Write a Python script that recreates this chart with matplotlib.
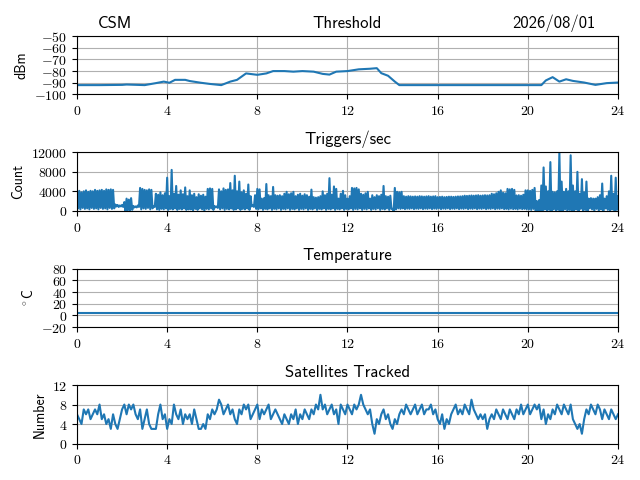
import numpy as np
import matplotlib
matplotlib.use('Agg')
from matplotlib import pyplot as plt
from matplotlib.ticker import FuncFormatter

plt.rcParams['font.family'] = ['cmss10', 'DejaVu Sans']
plt.rcParams['mathtext.fontset'] = 'cm'

# threshold (dBm), read at irregular hours
thr_t = [0, 1, 2, 2.2, 3, 3.5, 3.85, 4.1, 4.35, 4.8, 5, 5.5, 5.9, 6.4, 6.8, 7.1,
         7.5, 8, 8.4, 8.7, 9.2, 9.6, 10, 10.5, 10.9, 11.2, 11.5, 12, 12.5, 13,
         13.3, 13.5, 13.8, 14.1, 14.3, 16, 18, 20, 20.6, 20.8, 21.1, 21.4, 21.7,
         22, 22.5, 23, 23.5, 24]
thr_db = [-92, -92, -91.8, -91.5, -92, -90.3, -89, -90, -87.5, -87.5, -88.5, -90,
          -91, -92, -89, -87.5, -82, -83.2, -82, -80, -80, -80.5, -80, -80.5,
          -82.4, -83, -80.5, -80, -78.5, -78, -77.5, -81.8, -84, -89, -92, -92,
          -92, -92, -92, -88, -85.2, -89, -87, -88.4, -89.8, -91.8, -90.3, -89.8]

# triggers/sec, upper and lower swing every 0.1 h (one row per hour)
trig_hi = [
    3900, 4100, 3800, 4000, 4200, 3900, 4100, 4000, 4300, 4100,
    4200, 4300, 4100, 4400, 4300, 4400, 4300, 1300, 1200, 1100,
    1200, 1800, 2500, 2300, 2600, 1000, 900, 1100, 4700, 4500,
    4300, 4200, 4400, 4300, 1000, 3500, 3300, 3800, 3200, 3600,
    6800, 3000, 8400, 3500, 5100, 3300, 4200, 3400, 4800, 3000,
    4200, 3200, 3500, 2800, 3400, 3100, 3300, 2900, 4500, 4600,
    4500, 1000, 900, 4400, 4000, 4600, 4300, 4400, 5700, 4200,
    7200, 4000, 6000, 3800, 4200, 3500, 5400, 3000, 1200, 3200,
    4500, 4400, 2500, 2600, 5500, 3200, 3000, 4900, 3200, 3100,
    3200, 3000, 3500, 3900, 3400, 3600, 3900, 3000, 3300, 3500,
    3100, 3400, 3200, 2900, 4350, 2800, 2700, 2800, 3000, 4000,
    3200, 3500, 6700, 3300, 5000, 4500, 2500, 3500, 4100, 3200,
    2500, 3000, 4700, 4600, 4700, 4400, 3500, 3300, 3600, 3900,
    2500, 3200, 2800, 3200, 3000, 3300, 5100, 3000, 2900, 3100,
    400, 4700, 3900, 3800, 3900, 3000, 2900, 3000, 2950, 2900,
    2950, 2900, 3000, 2950, 2900, 2950, 3000, 2900, 2950, 3000,
    2800, 2850, 2900, 2800, 2850, 2900, 2900, 2850, 2900, 2950,
    2950, 3000, 3100, 3050, 3100, 3150, 3100, 3150, 3200, 3100,
    3150, 3200, 3150, 3200, 3500, 3400, 3600, 3900, 4200, 3700,
    3600, 4500, 4400, 4500, 4300, 3150, 3200, 3100, 3300, 4200,
    4200, 4100, 4300, 4700, 2000, 2200, 5200, 8900, 5000, 4000,
    10000, 3900, 3800, 4000, 12000, 6000, 3900, 4500, 4000, 11400,
    5200, 4000, 8000, 3500, 6500, 3800, 6000, 2500, 2600, 2500,
    2500, 2800, 3200, 5600, 2500, 3000, 4000, 7200, 3500, 6800,
    3000]
trig_lo = [
    500, 300, 600, 400, 500, 300, 600, 400, 500, 300,
    600, 400, 500, 300, 600, 400, 500, 900, 800, 900,
    800, 0, 100, 0, 200, 700, 700, 800, 300, 500,
    400, 600, 300, 500, 800, 300, 200, 400, 300, 500,
    200, 400, 300, 500, 200, 400, 300, 500, 200, 300,
    300, 100, 400, 200, 500, 300, 0, 400, 300, 500,
    200, 700, 600, 300, 500, 200, 400, 300, 500, 200,
    300, 500, 200, 400, 300, 500, 200, 900, 800, 400,
    300, 500, 200, 400, 300, 500, 200, 400, 300, 500,
    200, 400, 300, 500, 200, 400, 300, 500, 200, 400,
    300, 500, 200, 400, 300, 500, 200, 400, 300, 500,
    200, 400, 300, 500, 200, 400, 300, 500, 200, 400,
    300, 500, 200, 400, 300, 500, 200, 400, 300, 500,
    200, 400, 300, 500, 200, 400, 300, 500, 200, 400,
    0, 300, 500, 400, 500, 350, 450, 400, 500, 350,
    450, 400, 500, 350, 450, 400, 500, 350, 450, 400,
    500, 350, 450, 400, 500, 350, 450, 400, 500, 350,
    450, 400, 500, 350, 450, 400, 500, 350, 450, 400,
    500, 350, 450, 400, 500, 350, 450, 400, 500, 350,
    400, 300, 450, 350, 400, 300, 450, 350, 400, 300,
    300, 200, 400, 0, 0, 0, 0, 300, 0, 200,
    0, 300, 0, 200, 0, 0, 300, 0, 200, 0,
    0, 300, 0, 400, 0, 200, 0, 500, 300, 0,
    400, 0, 300, 0, 500, 200, 0, 300, 0, 200,
    300]

# temperature (deg C)
temp_t = [0, 24]
temp_c = [4.5, 4.5]

# satellites tracked every 0.1 h (one row per hour)
sats = [
    6, 5, 4, 7, 6, 7, 5, 6, 7, 6,
    8, 5, 6, 4, 5, 3, 6, 4, 3, 5,
    7, 8, 6, 8, 7, 8, 6, 5, 7, 3,
    5, 7, 4, 3, 3, 3, 6, 8, 5, 6,
    3, 5, 4, 8, 6, 5, 7, 4, 6, 5,
    6, 4, 7, 5, 3, 3, 4, 3, 6, 5,
    7, 6, 7, 9, 8, 6, 7, 8, 6, 7,
    5, 4, 7, 6, 8, 7, 8, 5, 6, 7,
    8, 5, 7, 6, 7, 8, 5, 6, 7, 6,
    5, 4, 6, 5, 4, 6, 5, 7, 4, 6,
    5, 7, 6, 5, 7, 6, 8, 7, 10, 7,
    8, 6, 7, 8, 6, 7, 4, 8, 7, 6,
    8, 7, 6, 8, 7, 8, 10, 8, 7, 6,
    7, 4, 2, 5, 4, 6, 7, 5, 6, 4,
    3, 5, 4, 6, 7, 6, 8, 7, 6, 7,
    8, 6, 7, 8, 6, 7, 7, 8, 6, 7,
    5, 4, 6, 3, 5, 4, 6, 7, 8, 6,
    7, 6, 8, 7, 6, 9, 7, 6, 5, 6,
    5, 6, 3, 5, 6, 5, 7, 6, 5, 7,
    6, 5, 7, 6, 5, 7, 6, 8, 6, 7,
    8, 6, 7, 8, 7, 8, 5, 7, 4, 6,
    5, 7, 6, 8, 7, 6, 8, 7, 6, 8,
    5, 4, 3, 4, 2, 5, 7, 6, 8, 7,
    6, 8, 7, 5, 7, 6, 5, 7, 6, 5,
    6]

step = 0.1
t_grid = np.arange(len(sats)) * step

# interleave the upper and lower swings of the trigger rate
trig_t = np.empty(2 * len(trig_hi))
trig_t[0::2] = np.arange(len(trig_hi)) * step
trig_t[1::2] = np.arange(len(trig_hi)) * step + step / 2
trig_v = np.empty(2 * len(trig_hi))
trig_v[0::2] = trig_hi
trig_v[1::2] = trig_lo
keep = trig_t <= 24
trig_t, trig_v = trig_t[keep], trig_v[keep]

# tick labels in roman math font, like the LaTeX original
math_fmt = FuncFormatter(lambda v, pos: r'$%d$' % round(v))

fig, axes = plt.subplots(4, 1, figsize=(6.4, 4.8), dpi=100)
fig.subplots_adjust(left=0.1203, right=0.9656, top=0.925, bottom=0.076, hspace=0.99)

ax = axes[0]
ax.plot(thr_t, thr_db, color='C0')
ax.set_title('Threshold')
ax.annotate('CSM', xy=(0.039, 1.0), xycoords='axes fraction', xytext=(0, 6),
            textcoords='offset points', ha='left', va='baseline', fontsize=12)
ax.annotate('2026/08/01', xy=(0.959, 1.0), xycoords='axes fraction', xytext=(0, 6),
            textcoords='offset points', ha='right', va='baseline', fontsize=12)
ax.set_ylabel('dBm')
ax.set_ylim(-100, -50)
ax.set_yticks(np.arange(-100, -49, 10))

ax = axes[1]
ax.plot(trig_t, trig_v, color='C0')
ax.set_title('Triggers/sec')
ax.set_ylabel('Count')
ax.set_ylim(0, 12000)
ax.set_yticks([0, 4000, 8000, 12000])

ax = axes[2]
ax.plot(temp_t, temp_c, color='C0')
ax.set_title('Temperature')
ax.set_ylabel(r'$^\circ$C')
ax.set_ylim(-20, 80)
ax.set_yticks(np.arange(-20, 81, 20))

ax = axes[3]
ax.plot(t_grid, sats, color='C0')
ax.set_title('Satellites Tracked')
ax.set_ylabel('Number')
ax.set_ylim(0, 12)
ax.set_yticks([0, 4, 8, 12])

for ax in axes:
    ax.set_xlim(0, 24)
    ax.set_xticks(np.arange(0, 25, 4))
    ax.xaxis.set_major_formatter(math_fmt)
    ax.yaxis.set_major_formatter(math_fmt)
    ax.grid(True)

fig.savefig('out.png', dpi=100)
